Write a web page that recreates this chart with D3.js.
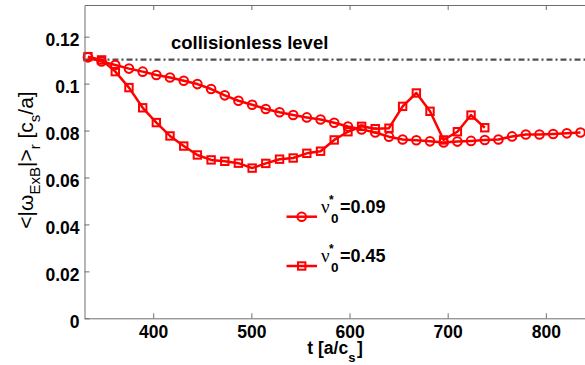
<!DOCTYPE html>
<html>
<head>
<meta charset="utf-8">
<script src="https://cdn.jsdelivr.net/npm/d3@7/dist/d3.min.js"></script>
<style>
  html, body { margin: 0; padding: 0; background: #fff; }
  svg { display: block; }
  text { font-family: "Liberation Sans", Arial, Helvetica, sans-serif; }
</style>
</head>
<body>
<svg id="chart" width="585" height="365"></svg>
<script>
// Time samples [a/c_s]
const tLow = [333.5, 347.4, 361.4, 375.3, 389.3, 403.2, 417.1, 431.1, 445.0, 459.0,
              472.9, 486.8, 500.8, 514.7, 528.7, 542.6, 556.5, 570.5, 584.4, 598.4,
              612.3, 626.2, 640.2, 654.1, 668.1, 682.0, 695.9, 709.9, 723.8, 737.8,
              751.7, 765.6, 779.6, 793.5, 807.5, 821.4, 835.3];
const tHigh = tLow.slice(0, 30);

// <|omega_ExB|>_r for nu0* = 0.09 (circles)
const wLow = [0.1112, 0.1094, 0.1079, 0.1064, 0.1051, 0.1037, 0.1026, 0.1012, 0.0998, 0.0977,
              0.0950, 0.0927, 0.0910, 0.0892, 0.0878, 0.0866, 0.0856, 0.0847, 0.0833, 0.0817,
              0.0805, 0.0792, 0.0774, 0.0762, 0.0759, 0.0754, 0.0749, 0.0753, 0.0756, 0.0760,
              0.0762, 0.0775, 0.0783, 0.0783, 0.0785, 0.0788, 0.0792];

// <|omega_ExB|>_r for nu0* = 0.45 (squares)
const wHigh = [0.1115, 0.1101, 0.1051, 0.0983, 0.0897, 0.0834, 0.0777, 0.0734, 0.0696, 0.0675,
               0.0669, 0.0661, 0.0640, 0.0660, 0.0678, 0.0683, 0.0703, 0.0712, 0.0760, 0.0795,
               0.0818, 0.0808, 0.0810, 0.0903, 0.0960, 0.0882, 0.0760, 0.0795, 0.0866, 0.0812];

const collisionless = 0.1102;

const xTicks = [400, 500, 600, 700, 800];
const yTicks = [0, 0.02, 0.04, 0.06, 0.08, 0.1, 0.12];
const yTickLabels = ["0", "0.02", "0.04", "0.06", "0.08", "0.1", "0.12"];
const legendLabels = ["=0.09", "=0.45"];

const svg = d3.select("#chart");
const red = "#ff0000";
const axisColor = "#6e6e6e";

const x = d3.scaleLinear().domain([330, 845]).range([84.5, 590]);
const y = d3.scaleLinear().domain([0, 0.1335]).range([318.3, 5]);

const plot = svg.append("g");

// Collisionless reference level (dash-dot)
plot.append("line")
  .attr("x1", x(330)).attr("x2", x(845))
  .attr("y1", y(collisionless)).attr("y2", y(collisionless))
  .attr("stroke", "#505050").attr("stroke-width", 2.2)
  .attr("stroke-dasharray", "6,3,2,3");

plot.append("text")
  .attr("x", 171).attr("y", 48.5)
  .attr("font-size", 18.5).attr("font-weight", "bold").attr("fill", "#000")
  .text("collisionless level");

const line = d3.line().x(d => x(d[0])).y(d => y(d[1]));

function series(ts, ws, marker) {
  const pts = ts.map((t, i) => [t, ws[i]]);
  const g = plot.append("g");
  g.append("path").datum(pts)
    .attr("d", line).attr("fill", "none")
    .attr("stroke", red).attr("stroke-width", 2.5).attr("stroke-linejoin", "round");
  drawMarkers(g, pts.map(p => [x(p[0]), y(p[1])]), marker);
}

function drawMarkers(g, xy, marker) {
  if (marker === "circle") {
    g.selectAll("circle.m").data(xy).join("circle").attr("class", "m")
      .attr("cx", d => d[0]).attr("cy", d => d[1]).attr("r", 4.3)
      .attr("fill", "none").attr("stroke", red).attr("stroke-width", 2);
  } else {
    const s = 7.4;
    g.selectAll("rect.m").data(xy).join("rect").attr("class", "m")
      .attr("x", d => d[0] - s / 2).attr("y", d => d[1] - s / 2)
      .attr("width", s).attr("height", s)
      .attr("fill", "none").attr("stroke", red).attr("stroke-width", 2);
  }
}

series(tLow, wLow, "circle");
series(tHigh, wHigh, "square");

// Axes box with inward ticks
const axes = svg.append("g");
const axBottom = axes.append("g").attr("transform", `translate(0,${y(0)})`)
  .call(d3.axisBottom(x).tickValues(xTicks).tickSizeInner(-5).tickSizeOuter(0).tickPadding(7.5));
axes.append("g").attr("transform", `translate(0,${y(0.1335)})`)
  .call(d3.axisTop(x).tickValues(xTicks).tickSizeInner(-5).tickSizeOuter(0).tickFormat(""));
const axLeft = axes.append("g").attr("transform", `translate(${x(330)},0)`)
  .call(d3.axisLeft(y).tickValues(yTicks).tickSizeInner(-5).tickSizeOuter(0).tickPadding(5)
    .tickFormat((d, i) => yTickLabels[i]));
axes.append("g").attr("transform", `translate(${x(845)},0)`)
  .call(d3.axisRight(y).tickValues(yTicks).tickSizeInner(-5).tickSizeOuter(0).tickFormat(""));

axes.selectAll(".domain").attr("stroke", axisColor).attr("stroke-width", 1);
axes.selectAll(".tick line").attr("stroke", axisColor).attr("stroke-width", 1);
axes.selectAll(".tick text")
  .attr("font-family", "'Liberation Sans', Arial, sans-serif")
  .attr("font-size", 17.5).attr("font-weight", "bold").attr("fill", "#000");
axBottom.selectAll(".tick text").attr("dy", "0.71em");
axLeft.selectAll(".tick text").attr("dy", "0.5em");

// x-axis title: t [a/c_s]
const xt = svg.append("text")
  .attr("x", 335).attr("y", 354).attr("text-anchor", "middle")
  .attr("font-size", 17.5).attr("font-weight", "bold").attr("fill", "#000");
xt.append("tspan").text("t [a/c");
xt.append("tspan").attr("dy", 8).attr("font-size", 13).text("s");
xt.append("tspan").attr("dy", -8).attr("dx", 1.5).text("]");

// y-axis title: <|omega_ExB|>_r [c_s/a]
const yt = svg.append("text")
  .attr("transform", "translate(33,160) rotate(-90)")
  .attr("text-anchor", "middle").attr("font-size", 21).attr("fill", "#000");
yt.append("tspan").text("<|ω");
yt.append("tspan").attr("dy", 7).attr("font-size", 15).text("ExB");
yt.append("tspan").attr("dy", -7).text("|>");
yt.append("tspan").attr("dy", 7).attr("font-size", 15).text("r");
yt.append("tspan").attr("dy", -7).text(" [c");
yt.append("tspan").attr("dy", 7).attr("font-size", 15).text("s");
yt.append("tspan").attr("dy", -7).text("/a]");

// Legend: nu_0^* labels with stacked super/subscript
const legendMarkers = ["circle", "square"];
const legendRows = [216.7, 266];
legendLabels.forEach((lab, i) => {
  const ly = legendRows[i];
  const g = svg.append("g");
  g.append("line").attr("x1", 286.5).attr("x2", 317).attr("y1", ly).attr("y2", ly)
    .attr("stroke", red).attr("stroke-width", 2.5);
  drawMarkers(g, [[301.7, ly]], legendMarkers[i]);
  const base = ly - 3.7;
  const t = g.append("text").attr("x", 321).attr("y", base)
    .attr("font-size", 18).attr("font-weight", "bold").attr("fill", "#000");
  t.append("tspan").attr("font-family", "'Liberation Serif', serif")
    .attr("font-weight", "normal").attr("font-size", 19).text("ν");
  t.append("tspan").attr("x", 329).attr("dy", -9).attr("font-size", 12).text("*");
  t.append("tspan").attr("x", 331).attr("dy", 19).attr("font-size", 13.5).text("0");
  t.append("tspan").attr("x", 340).attr("dy", -10).text(lab);
});
</script>
</body>
</html>
